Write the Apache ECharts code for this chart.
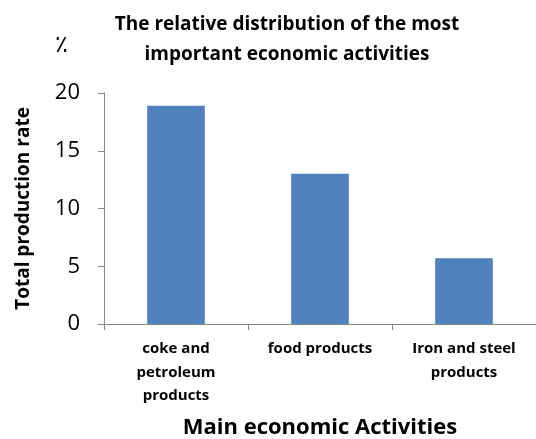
<!DOCTYPE html>
<html>
<head>
<meta charset="utf-8">
<script src="https://cdn.jsdelivr.net/npm/echarts@6/dist/echarts.min.js"></script>
<style>
  html, body { margin: 0; padding: 0; background: #fff; }
  #chart { width: 536px; height: 439px; }
</style>
</head>
<body>
<div id="chart"></div>
<script>
// data
const categories = ['coke and\npetroleum\nproducts', 'food products', 'Iron and steel\nproducts'];
const values = [18.9, 13.0, 5.7];
const yTicks = [0, 5, 10, 15, 20];

const FONT = '"Open Sans", "Noto Sans", sans-serif';

const chart = echarts.init(document.getElementById('chart'));

chart.setOption({
    animation: false,
    title: {
        text: 'The relative distribution of the most\nimportant economic activities',
        left: 282,
        top: 5,
        textAlign: 'center',
        textStyle: { fontFamily: FONT, fontWeight: 'bold', fontSize: 19, lineHeight: 30, color: '#000' }
    },
    graphic: [{
        type: 'text',
        left: 55,
        top: 34,
        style: { text: '٪', font: '24px "DejaVu Sans", sans-serif', fill: '#000' }
    }],
    grid: { left: 104, right: 0, top: 93, bottom: 115, outerBoundsMode: 'none' },
    xAxis: {
        type: 'category',
        data: categories,
        boundaryGap: true,
        axisLine: { lineStyle: { color: '#888', width: 1 } },
        axisTick: { show: true, length: 6, lineStyle: { color: '#888' } },
        axisLabel: {
            fontFamily: FONT, fontWeight: 'bold', fontSize: 15, lineHeight: 23.5,
            color: '#000', margin: 13, interval: 0
        },
        name: 'Main economic Activities',
        nameLocation: 'middle',
        nameGap: 93,
        nameTextStyle: { fontFamily: FONT, fontWeight: 'bold', fontSize: 22, color: '#000' }
    },
    yAxis: {
        type: 'value',
        min: yTicks[0],
        max: yTicks[yTicks.length - 1],
        interval: 5,
        axisLine: { show: true, lineStyle: { color: '#888', width: 1 } },
        axisTick: { show: true, length: 6, lineStyle: { color: '#888' } },
        splitLine: { show: false },
        axisLabel: { fontFamily: FONT, fontSize: 22, color: '#000', margin: 24 },
        name: 'Total production rate',
        nameLocation: 'middle',
        nameGap: 71,
        nameTextStyle: { fontFamily: FONT, fontWeight: 'bold', fontSize: 19, color: '#000' }
    },
    series: [{
        type: 'bar',
        data: values,
        barWidth: '40%',
        itemStyle: { color: '#4F81BD' }
    }]
});
</script>
</body>
</html>
